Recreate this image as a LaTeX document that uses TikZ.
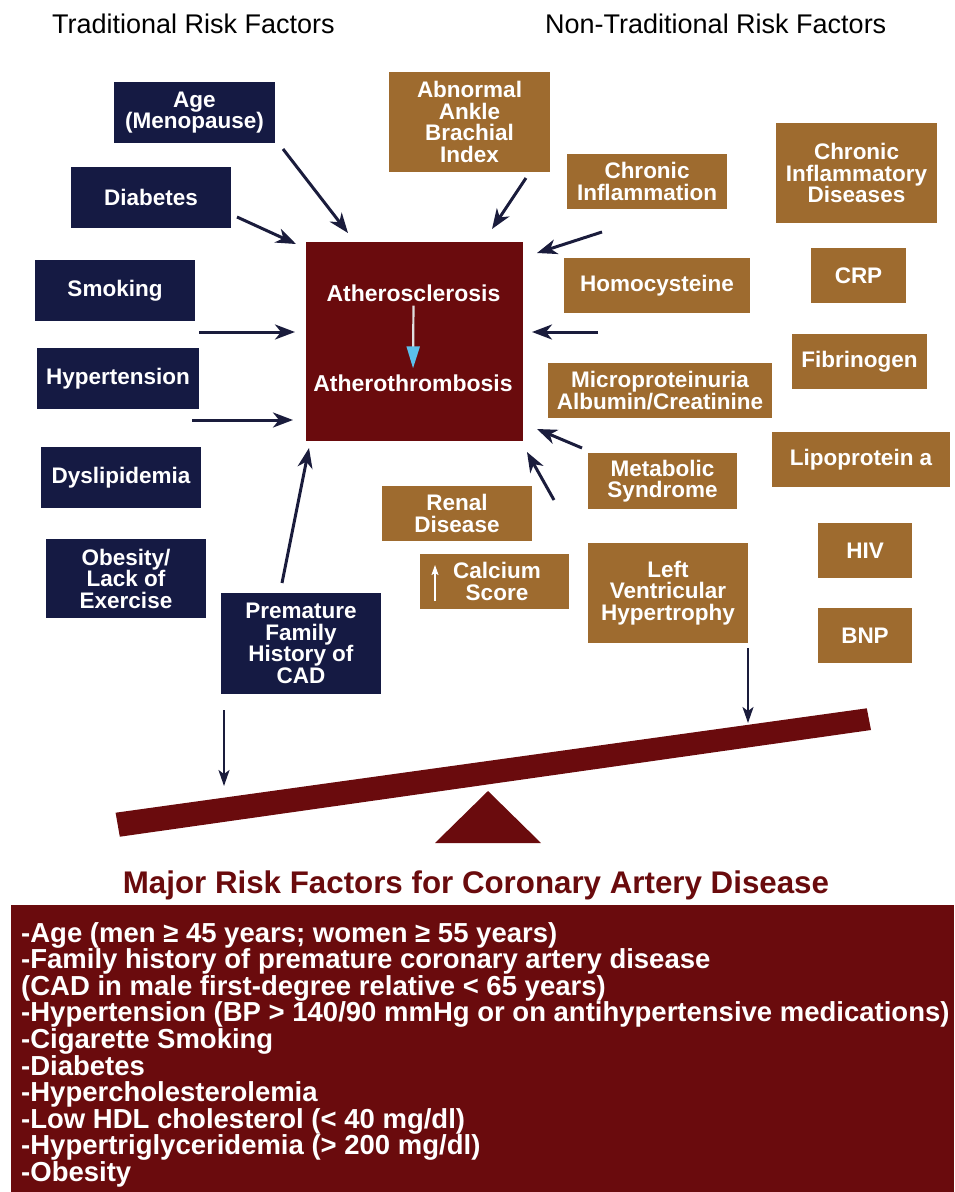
\documentclass[tikz,border=0pt]{standalone}
\usepackage{fontspec}
\setmainfont{Liberation Sans}
\usetikzlibrary{arrows.meta}
\definecolor{navy}{HTML}{151A43}
\definecolor{tanbox}{HTML}{9E6B2F}
\definecolor{darkred}{HTML}{6A0B0D}
\definecolor{arrowc}{HTML}{1A1C3C}
\definecolor{lblue}{HTML}{5BC0EB}
\begin{document}
\begin{tikzpicture}[x=1pt,y=-1pt,
  boxtext/.style={text=white,align=center,inner sep=0pt,
    font=\fontsize{22.5}{21.5}\selectfont\bfseries},
  nbox/.style={boxtext,fill=navy},
  bbox/.style={boxtext,fill=tanbox},
  header/.style={font=\fontsize{27}{27}\selectfont,text=black,anchor=base west,inner sep=0pt},
  arr/.style={draw=arrowc,line width=3pt,-{Stealth[length=20pt,width=15pt,inset=6pt]}},
  darr/.style={draw=arrowc,line width=2.2pt,-{Stealth[length=16pt,width=11pt,inset=4pt]}},
  listtext/.style={text=white,anchor=base west,inner sep=0pt,
    font=\fontsize{27.5}{26.6}\selectfont\bfseries},
]
\useasboundingbox (0,0) rectangle (954,1192);

% headers
\node[header] (h1) at (52,33) {Traditional Risk Factors};
\node[header] (h2) at (545,33) {Non-Traditional Risk Factors};

% traditional (navy)
\node[nbox,minimum width=161pt,minimum height=61pt] (age) at (194.5,112.5) {Age\\(Menopause)};
\node[nbox,minimum width=160pt,minimum height=61pt] (diab) at (151,197.5) {Diabetes};
\node[nbox,minimum width=160pt,minimum height=61pt] (smok) at (115,290.5) {Smoking};
\node[nbox,minimum width=162pt,minimum height=61pt] (hyp) at (118,378.5) {Hypertension};
\node[nbox,minimum width=160pt,minimum height=61pt] (dys) at (121,477.5) {Dyslipidemia};
\node[nbox,minimum width=160pt,minimum height=79pt] (obes) at (126,578.5) {Obesity/\\Lack of\\Exercise};
\node[nbox,minimum width=160pt,minimum height=101pt] (prem) at (301,643.5) {Premature\\Family\\History of\\CAD};

% center
\node[fill=darkred,minimum width=217pt,minimum height=199pt,inner sep=0pt] (center) at (414.5,341.5) {};
\node[boxtext,font=\fontsize{23}{23}\selectfont\bfseries] (t1) at (413.5,293) {Atherosclerosis};
\node[boxtext,font=\fontsize{23}{23}\selectfont\bfseries] (t2) at (413,383) {Atherothrombosis};
\draw[draw=gray!25,line width=2.2pt,shorten <=4pt,shorten >=6pt,
  -{Triangle[length=22pt,width=13pt,fill=lblue,color=lblue]}] (t1.south) -- (t2.north);

% non-traditional (tan)
\node[bbox,minimum width=161pt,minimum height=100pt] (abi) at (469.5,122) {Abnormal\\Ankle\\Brachial\\Index};
\node[bbox,minimum width=160pt,minimum height=55pt] (chinf) at (647,181.5) {Chronic\\Inflammation};
\node[bbox,minimum width=161pt,minimum height=100pt] (cid) at (856.5,173) {Chronic\\Inflammatory\\Diseases};
\node[bbox,minimum width=186pt,minimum height=55pt] (homo) at (657,285.5) {Homocysteine};
\node[bbox,minimum width=95pt,minimum height=55pt] (crp) at (858.5,275.5) {CRP};
\node[bbox,minimum width=135pt,minimum height=55pt] (fib) at (859.5,361.5) {Fibrinogen};
\node[bbox,minimum width=224pt,minimum height=55pt] (micro) at (660,390.5) {Microproteinuria\\Albumin/Creatinine};
\node[bbox,minimum width=178pt,minimum height=55pt] (lipo) at (861,459.5) {Lipoprotein a};
\node[bbox,minimum width=149pt,minimum height=56pt] (meta) at (662.5,481) {Metabolic\\Syndrome};
\node[bbox,minimum width=150pt,minimum height=55pt] (renal) at (457,513.5) {Renal\\Disease};
\node[bbox,minimum width=149pt,minimum height=55pt] (calc) at (494.5,581.5) {\hspace*{5pt}Calcium\\\hspace*{5pt}Score};
\node[bbox,minimum width=160pt,minimum height=100pt] (lvh) at (668,593) {Left\\Ventricular\\Hypertrophy};
\node[bbox,minimum width=94pt,minimum height=55pt] (hiv) at (865,550.5) {HIV};
\node[bbox,minimum width=94pt,minimum height=55pt] (bnp) at (865,635.5) {BNP};

% calcium up arrow
\coordinate (cu1) at (435,601);
\coordinate (cu2) at (435,565);
\draw[white,line width=1.6pt,-{Stealth[length=10pt,width=7pt,inset=2pt]}] (cu1) -- (cu2);

% arrow end points
\coordinate (a1s) at (283,149);  \coordinate (a1e) at (348,233);
\coordinate (a2s) at (237,217);  \coordinate (a2e) at (296,244);
\coordinate (a3s) at (199,332);  \coordinate (a3e) at (295,332);
\coordinate (a4s) at (192,420);  \coordinate (a4e) at (293,420);
\coordinate (a5s) at (282,583);  \coordinate (a5e) at (309,448);
\coordinate (b1s) at (526,178);  \coordinate (b1e) at (492,229);
\coordinate (b2s) at (602,232);  \coordinate (b2e) at (537,253);
\coordinate (b3s) at (598,332);  \coordinate (b3e) at (532,332);
\coordinate (b4s) at (582,448);  \coordinate (b4e) at (537,429);
\coordinate (b5s) at (554,500);  \coordinate (b5e) at (527,452);
\coordinate (d1s) at (224,710);  \coordinate (d1e) at (224,786);
\coordinate (d2s) at (748,648);  \coordinate (d2e) at (748,723);

\foreach \p in {a1,a2,a3,a4,a5,b1,b2,b3,b4,b5}
  \draw[arr] (\p s) -- (\p e);
\draw[darr] (d1s) -- (d1e);
\draw[darr] (d2s) -- (d2e);

% seesaw
\fill[darkred] (115.6,812.7) -- (119.8,836.7) -- (871,730) -- (866.8,708.3) -- cycle;
\fill[darkred] (488,791) -- (541,843) -- (435,843) -- cycle;

% title and list
\node[font=\fontsize{31.3}{31.3}\selectfont\bfseries,text=darkred,anchor=base,inner sep=0pt] (title) at (476,893) {Major Risk Factors for Coronary Artery Disease};
\fill[darkred] (11,905) rectangle (954,1192);
\foreach \t [count=\i from 0] in {
  {-Age (men ≥ 45 years; women ≥ 55 years)},
  {-Family history of premature coronary artery disease},
  {(CAD in male first-degree relative < 65 years)},
  {-Hypertension (BP > 140/90 mmHg or on antihypertensive medications)},
  {-Cigarette Smoking},
  {-Diabetes},
  {-Hypercholesterolemia},
  {-Low HDL cholesterol (< 40 mg/dl)},
  {-Hypertriglyceridemia (> 200 mg/dl)},
  {-Obesity}}
  \node[listtext] (L\i) at (21,{942+26.6*\i}) {\t};
\end{tikzpicture}
\end{document}
